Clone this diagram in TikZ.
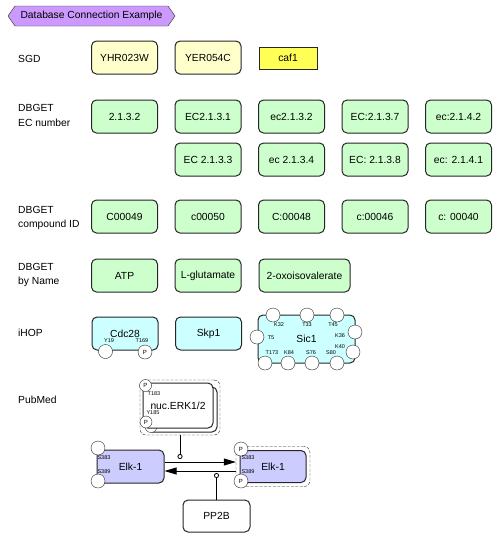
\documentclass[tikz,border=0pt]{standalone}
\usepackage{fontspec}
\setmainfont{Liberation Sans}
\usetikzlibrary{positioning,shapes.symbols,arrows.meta}
\definecolor{hdrpurple}{HTML}{CC99FF}
\definecolor{genyellow}{HTML}{FFFFCC}
\definecolor{cafyellow}{HTML}{FFFF55}
\definecolor{dbgreen}{HTML}{CCFFCC}
\definecolor{ihopcyan}{HTML}{CCFFFF}
\definecolor{elkblue}{HTML}{CCCCFF}

\begin{document}
\begin{tikzpicture}[x=1pt,y=-1pt,font=\fontsize{10.3}{14.5}\selectfont,
  box/.style = {draw=black!85, line width=1pt, rounded corners=5pt, minimum width=66pt, minimum height=33pt, inner sep=3pt},
  gene/.style = {box, fill=genyellow},
  enz/.style = {box, fill=dbgreen},
  prot/.style = {box, fill=ihopcyan},
  elk/.style = {box, fill=elkblue},
  lbl/.style = {anchor=west, align=left, inner sep=0pt},
  res/.style = {draw=black!85, fill=white, circle, minimum size=14pt, inner sep=0pt, font=\fontsize{6}{6}\selectfont},
  site/.style = {inner sep=0pt, font=\fontsize{5.5}{6}\selectfont},
  act/.style = {draw=black!85, dash pattern=on 3pt off 1.5pt, rounded corners=6pt},
  arr/.style = {-{Triangle[length=12pt,width=7pt]}, line width=0.8pt},
  mod/.style = {-{Circle[open,length=5pt]}, line width=0.8pt},
  node distance={83.5pt}]
\useasboundingbox (0,0) rectangle (500,542);

\node[signal, signal to=west and east, signal pointer angle=110, draw=black!85, fill=hdrpurple,
  minimum width=167pt, minimum height=20pt, inner sep=0pt] (title) at (91.5,16) {Database Connection Example};

\node[lbl] (l1) at (18,59) {SGD};
\node[lbl] (l2) at (18,115.5) {DBGET\\EC number};
\node[lbl] (l3) at (18,218) {DBGET\\compound ID};
\node[lbl] (l4) at (18,275) {DBGET\\by Name};
\node[lbl] (l5) at (18,333) {iHOP};
\node[lbl] (l6) at (18,400) {PubMed};

\node[gene] (s1) at (124.5,57.5) {YHR023W};
\node[gene] (s2) [right of=s1] {YER054C};
\node[draw=black!85, fill=cafyellow, minimum width=58pt, minimum height=22pt, inner sep=0pt] (s3) at (288,58) {caf1};

\node[enz] (e1) at (124.5,116.5) {2.1.3.2};
\node[enz] (e2) [right of=e1] {EC2.1.3.1};
\node[enz] (e3) [right of=e2] {ec2.1.3.2};
\node[enz] (e4) [right of=e3] {EC:2.1.3.7};
\node[enz] (e5) [right of=e4] {ec:2.1.4.2};
\node[enz] (e6) [below=9pt of e2] {EC 2.1.3.3};
\node[enz] (e7) [right of=e6] {ec 2.1.3.4};
\node[enz] (e8) [right of=e7] {EC: 2.1.3.8};
\node[enz] (e9) [right of=e8] {ec: 2.1.4.1};

\node[enz] (c1) at (124.5,216.5) {C00049};
\node[enz] (c2) [right of=c1] {c00050};
\node[enz] (c3) [right of=c2] {C:00048};
\node[enz] (c4) [right of=c3] {c:00046};
\node[enz] (c5) [right of=c4] {c: 00040};

\node[enz] (n1) at (124.5,275.5) {ATP};
\node[enz] (n2) [right of=n1] {L-glutamate};
\node[enz, minimum width=91pt] (n3) at (304.5,275.5) {2-oxoisovalerate};

\node[prot] (p1) at (125,333.5) {Cdc28};
\node[prot] (p2) [right of=p1] {Skp1};
\node[prot, minimum width=97pt, minimum height=48pt] (p3) at (306.5,339) {Sic1};
\node[res] (p1a) at (105.5,351.5) {};
\node[res] (p1b) at (145,352) {P};
\node[site] at (109,341) {Y19};
\node[site] at (142,341) {T169};
\foreach \x/\y/\t in {273/315/K32, 307/315/T33, 337/315/T45, 257/337/T5, 355/332/K36, 353/352/K40,
  265/363/T173, 288/363/K84, 312/363/S76, 337/363/S80}
  \node[res] (r\t) at (\x,\y) {};
\foreach \x/\y/\t in {279/325/K32, 307/325/T33, 333/325/T45, 271/338/T5, 340/336/K36, 340/347/K40,
  272/353/T173, 289/353/K84, 311/353/S76, 331/353/S80}
  \node[site] at (\x,\y) {\t};

\node[act, minimum width=80pt, minimum height=55pt] (erkx) at (180,407.5) {};
\node[box, fill=white, minimum width=70pt, minimum height=45pt] (erkb) at (182,409.5) {};
\node[res, minimum size=12pt] (erkb1) at (151,426.5) {};
\node[box, fill=white, minimum width=70pt, minimum height=45pt] (erk) at (178,405.5) {nuc.ERK1/2};
\node[res, minimum size=12pt] (erk1) at (145.5,385.5) {P};
\node[res, minimum size=12pt] (erk2) at (146,422) {P};
\node[site] at (154,394) {T183};
\node[site] at (153,413) {Y185};

\node[elk, minimum width=67pt] (elkA) at (130.5,466.5) {Elk-1};
\node[res] (elkA1) at (98,448) {};
\node[res] (elkA2) at (98,481) {};
\node[site] at (104,458) {S383};
\node[site] at (104,472) {S389};

\node[act, minimum width=74pt, minimum height=40pt] (elkBx) at (273,466.5) {};
\node[elk, minimum height=32pt] (elkB) at (273,466.5) {Elk-1};
\node[res] (elkB1) at (241,449) {P};
\node[res] (elkB2) at (241,481) {P};
\node[site] at (248,458) {S383};
\node[site] at (248,472) {S389};

\node[box, fill=white, minimum width=67pt, minimum height=32pt] (pp2b) at (216.5,516) {PP2B};

\draw[arr] ([yshift=4.5pt]elkA.east) -- ([yshift=4.5pt]elkBx.west);
\draw[arr] ([yshift=-4.5pt]elkBx.west) -- ([yshift=-4.5pt]elkA.east);
\coordinate (m1) at (180,459);
\coordinate (m2) at (216.5,473);
\draw[mod] (erkx.south) -- (m1);
\draw[mod] (pp2b.north) -- (m2);
\end{tikzpicture}
\end{document}
